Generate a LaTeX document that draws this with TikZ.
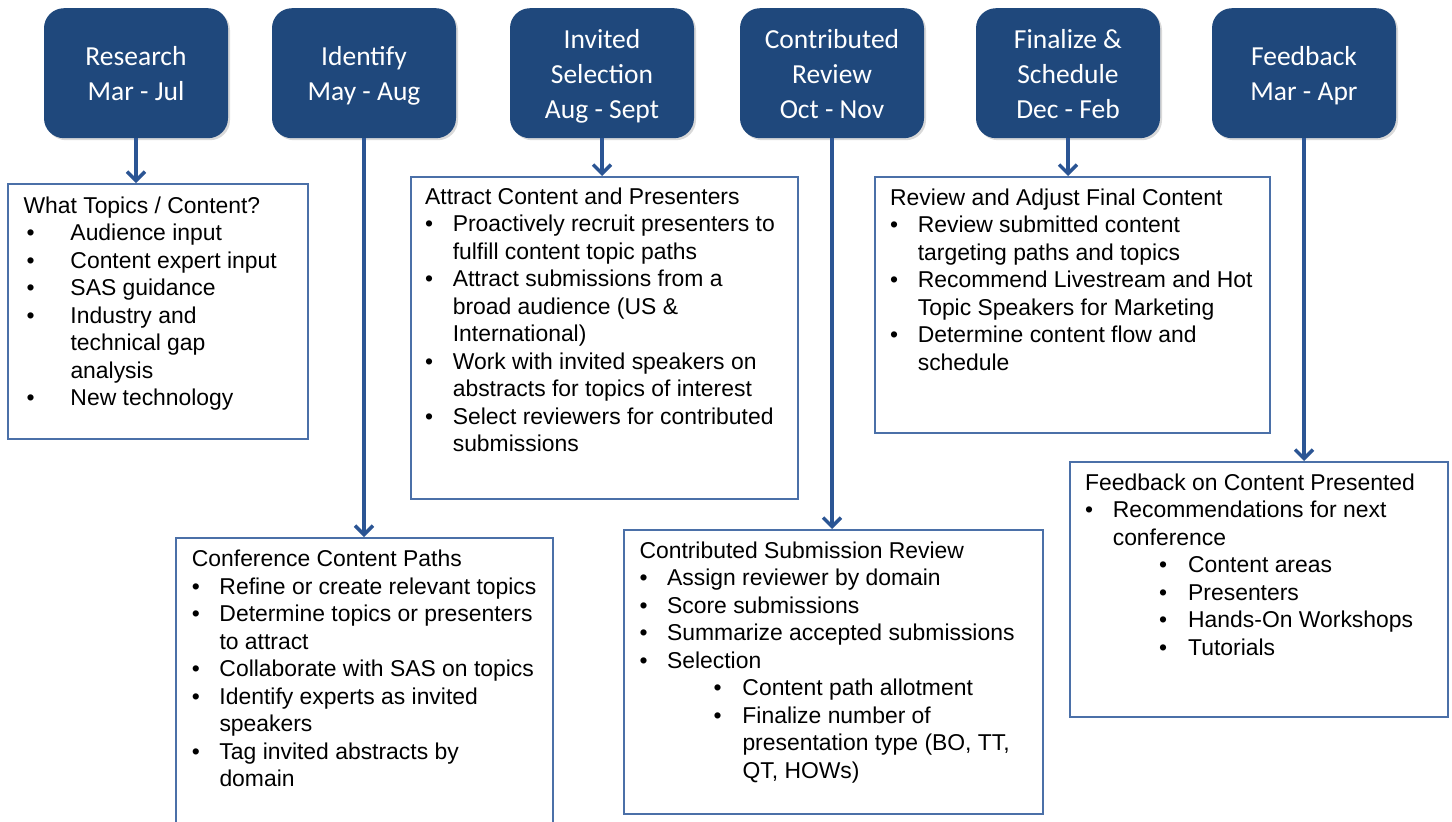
\documentclass[tikz,border=0pt]{standalone}
\usepackage{fontspec}
\setmainfont{Liberation Sans}
\newfontfamily\hdrfont{Carlito}
\usepackage{tikz}
\usetikzlibrary{arrows.meta,shadows}

\definecolor{hdrblue}{HTML}{1F487C}
\definecolor{arrblue}{HTML}{2B5594}
\definecolor{boxblue}{HTML}{4B70A8}

\newcommand{\bul}{\makebox[27.6pt][l]{\textbullet}}
\newcommand{\ind}{\hspace*{27.6pt}}
\newcommand{\subbul}{\hspace*{74pt}\makebox[29pt][l]{\textbullet}}
\newcommand{\subind}{\hspace*{103pt}}
\newcommand{\widebul}{\hspace*{3pt}\makebox[44pt][l]{\textbullet}}
\newcommand{\wideind}{\hspace*{47pt}}

\tikzset{
  hdr/.style={fill=hdrblue, rounded corners=20pt, minimum width=184pt, minimum height=130pt,
    anchor=north, text=white, align=center, inner sep=0pt, text depth=8pt,
    font=\hdrfont\fontsize{27.5}{35}\selectfont,
    drop shadow={shadow xshift=2pt, shadow yshift=-2pt, opacity=0.3}},
  twoline/.style={text height=62pt},
  threeline/.style={text height=98pt},
  cbox/.style={draw=boxblue, line width=2pt, anchor=north west, inner sep=0pt},
  txt/.style={anchor=base west, align=left, inner sep=0pt, font=\fontsize{22.9}{27.5}\selectfont},
  arr/.style={draw=arrblue, line width=3.5pt, -{Straight Barb[length=9pt,width=18pt]}}
}

\begin{document}
\begin{tikzpicture}[x=1pt, y=-1pt]
  \useasboundingbox (0,0) rectangle (1452,822);
  \clip (0,0) rectangle (1452,822);

  % phase headers
  \node[hdr, twoline] (h1) at (136,8) {Research\\Mar - Jul};
  \node[hdr, twoline] (h2) at (364,8) {Identify\\May - Aug};
  \node[hdr, threeline] (h3) at (602,8) {Invited\\Selection\\Aug - Sept};
  \node[hdr, threeline] (h4) at (832,8) {Contributed\\Review\\Oct - Nov};
  \node[hdr, threeline] (h5) at (1068,8) {Finalize \&\\Schedule\\Dec - Feb};
  \node[hdr, twoline] (h6) at (1304,8) {Feedback\\Mar - Apr};

  % content boxes
  \node[cbox, minimum width=300pt, minimum height=255pt] (b1) at (7,183) {};
  \node[cbox, minimum width=387pt, minimum height=322pt] (b2) at (410,176) {};
  \node[cbox, minimum width=395pt, minimum height=256pt] (b3) at (874,176) {};
  \node[cbox, minimum width=377pt, minimum height=300pt] (b4) at (175,537) {};
  \node[cbox, minimum width=419pt, minimum height=284pt] (b5) at (623,529) {};
  \node[cbox, minimum width=378pt, minimum height=255pt] (b6) at (1069,461) {};

  % texts (placed at the baseline of their last line)
  \node[txt] (t1) at (23.3,405.5) {What Topics / Content?\\
    \widebul Audience input\\
    \widebul Content expert input\\
    \widebul SAS guidance\\
    \widebul Industry and\\
    \wideind technical gap\\
    \wideind analysis\\
    \widebul New technology};
  \node[txt] (t2) at (425,451.8) {Attract Content and Presenters\\
    \bul Proactively recruit presenters to\\
    \ind fulfill content topic paths\\
    \bul Attract submissions from a\\
    \ind broad audience (US \&\\
    \ind International)\\
    \bul Work with invited speakers on\\
    \ind abstracts for topics of interest\\
    \bul Select reviewers for contributed\\
    \ind submissions};
  \node[txt] (t3) at (890,370) {Review and Adjust Final Content\\
    \bul Review submitted content\\
    \ind targeting paths and topics\\
    \bul Recommend Livestream and Hot\\
    \ind Topic Speakers for Marketing\\
    \bul Determine content flow and\\
    \ind schedule};
  \node[txt] (t4) at (191.7,786.7) {Conference Content Paths\\
    \bul Refine or create relevant topics\\
    \bul Determine topics or presenters\\
    \ind to attract\\
    \bul Collaborate with SAS on topics\\
    \bul Identify experts as invited\\
    \ind speakers\\
    \bul Tag invited abstracts by\\
    \ind domain};
  \node[txt] (t5) at (639.3,778) {Contributed Submission Review\\
    \bul Assign reviewer by domain\\
    \bul Score submissions\\
    \bul Summarize accepted submissions\\
    \bul Selection\\
    \subbul Content path allotment\\
    \subbul Finalize number of\\
    \subind presentation type (BO, TT,\\
    \subind QT, HOWs)};
  \node[txt] (t6) at (1085,655) {Feedback on Content Presented\\
    \bul Recommendations for next\\
    \ind conference\\
    \subbul Content areas\\
    \subbul Presenters\\
    \subbul Hands-On Workshops\\
    \subbul Tutorials};

  % arrows
  \draw[arr] (h1.south) -- (h1.south |- b1.north);
  \draw[arr] (h2.south) -- (h2.south |- b4.north);
  \draw[arr] (h3.south) -- (h3.south |- b2.north);
  \draw[arr] (h4.south) -- (h4.south |- b5.north);
  \draw[arr] (h5.south) -- (h5.south |- b3.north);
  \draw[arr] (h6.south) -- (h6.south |- b6.north);
\end{tikzpicture}
\end{document}
